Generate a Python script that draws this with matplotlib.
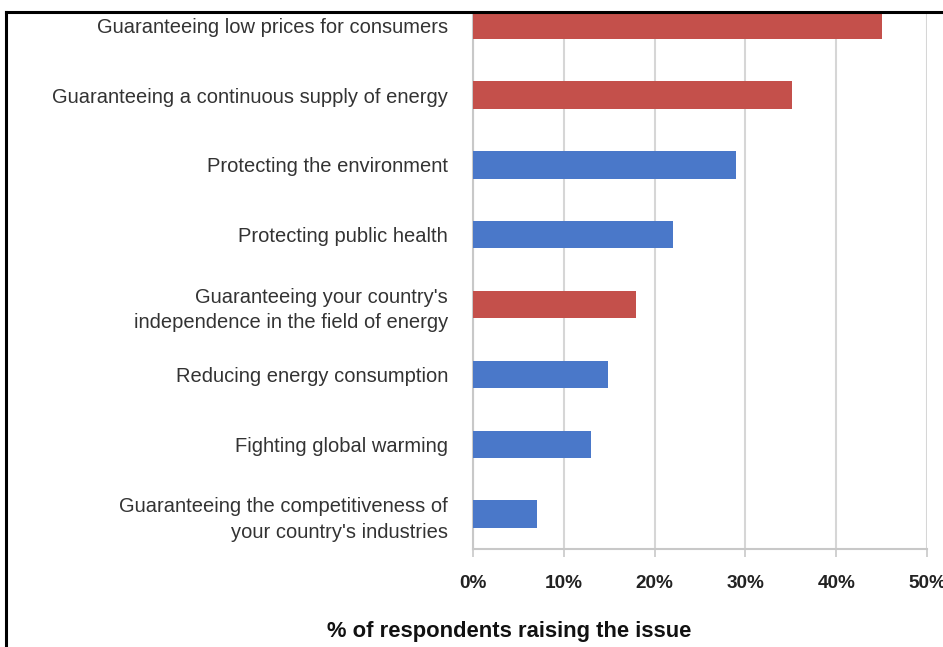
import matplotlib.pyplot as plt
from matplotlib.lines import Line2D
from matplotlib.ticker import PercentFormatter

# Data (bottom to top)
categories = [
    "Guaranteeing the competitiveness of\nyour country's industries",
    "Fighting global warming",
    "Reducing energy consumption",
    "Guaranteeing your country's\nindependence in the field of energy",
    "Protecting public health",
    "Protecting the environment",
    "Guaranteeing a continuous supply of energy",
    "Guaranteeing low prices for consumers",
]
shares = [0.07, 0.13, 0.149, 0.18, 0.22, 0.29, 0.351, 0.45]
# Group of each issue: "econ" = red bars, "other" = blue bars
groups = ["other", "other", "other", "econ", "other", "other", "econ", "econ"]

xticks = [0, 0.1, 0.2, 0.3, 0.4, 0.5]
xlabel = "% of respondents raising the issue"

# Styles
group_colors = {"econ": "#c4504b", "other": "#4a78c9"}
plt.rcParams['font.family'] = ['Liberation Sans', 'DejaVu Sans']

W, H = 943, 647
fig = plt.figure(figsize=(W / 100, H / 100), dpi=100)
fig.patch.set_facecolor("white")

# Plot area in pixels: x 473..927, y 12..549
ax = fig.add_axes([473 / W, (H - 549) / H, (927 - 473) / W, (549 - 12) / H])

positions = list(range(len(categories)))
bar_colors = [group_colors[g] for g in groups]
ax.barh(positions, shares, height=0.39, color=bar_colors, zorder=3)

# Axes limits (top of the chart is cropped by the frame)
ax.set_xlim(0, 0.5)
ax.set_ylim(-0.5, 7.19)

# X axis
ax.set_xticks(xticks)
ax.xaxis.set_major_formatter(PercentFormatter(1.0, decimals=0))
ax.tick_params(axis="x", length=6, width=1.2, color="#c8c8c8", pad=13,
               labelsize=13.7, labelcolor="#222222")
for lab in ax.get_xticklabels():
    lab.set_fontweight("bold")

# Y axis
ax.set_yticks(positions)
ax.set_yticklabels(categories, fontsize=14.5, color="#333333", linespacing=1.45)
ax.tick_params(axis="y", length=0, pad=18)

# Grid and spines
ax.grid(axis="x", color="#d6d6d6", linewidth=1.5, zorder=0)
ax.set_axisbelow(True)
for side in ["top", "right"]:
    ax.spines[side].set_visible(False)
for side in ["left", "bottom"]:
    ax.spines[side].set_color("#c8c8c8")
    ax.spines[side].set_linewidth(1.5)

# X label (centered on the full original figure, not on the axes)
fig.text(509 / W, 1 - 632 / H, xlabel, ha="center", va="center",
         fontsize=15.8, fontweight="bold", color="#111111")

# Black frame (top and left edges visible)
fig.add_artist(Line2D([6 / W, 1], [1 - 12 / H, 1 - 12 / H],
                      transform=fig.transFigure, color="black", lw=2.2))
fig.add_artist(Line2D([6 / W, 6 / W], [0, 1 - 12 / H],
                      transform=fig.transFigure, color="black", lw=2.2))

fig.savefig("out.png", dpi=100)
